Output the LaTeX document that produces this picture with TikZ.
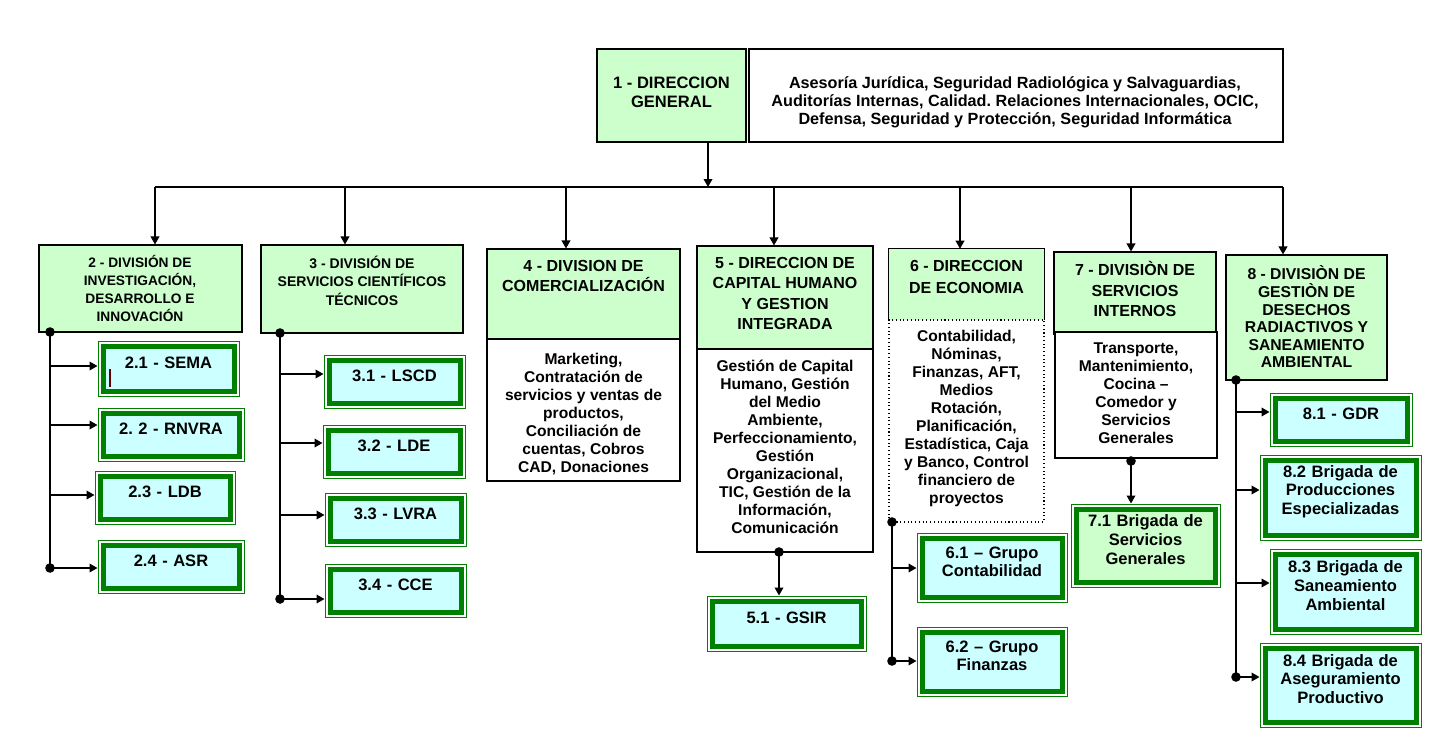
\documentclass[tikz,border=0pt]{standalone}
\usepackage{fontspec}
\setmainfont{Liberation Sans}
\usetikzlibrary{arrows.meta,fit,calc}
\definecolor{hgreen}{HTML}{CCFFCC}
\definecolor{cyanf}{HTML}{CCFFFF}
\definecolor{dkgreen}{HTML}{008000}
\definecolor{cursorc}{HTML}{600000}
\frenchspacing
\newcommand\fTop{\fontsize{12.4}{14.25}\selectfont\bfseries}
\newcommand\fAdv{\fontsize{12.15}{13.5}\selectfont\bfseries}
\newcommand\fTwo{\fontsize{10.3}{13.5}\selectfont\bfseries}
\newcommand\fThree{\fontsize{10.5}{13.9}\selectfont\bfseries}
\newcommand\fHd{\fontsize{12}{15.3}\selectfont\bfseries}
\newcommand\fHdb{\fontsize{12}{16.5}\selectfont\bfseries}
\newcommand\fEight{\fontsize{11.8}{13.2}\selectfont\bfseries}
\newcommand\fBody{\fontsize{11.7}{13.5}\selectfont\bfseries}
\newcommand\fSub{\fontsize{12.4}{14}\selectfont\bfseries}
\tikzset{
  hbox/.style={draw, line width=0.8pt, fill=hgreen, inner sep=0pt},
  wbox/.style={draw, line width=0.8pt, fill=white, inner sep=0pt},
  txt/.style={align=center, inner sep=0pt},
  conn/.style={line width=1.1pt},
  arr/.style={conn, -{Triangle[length=6pt,width=6.5pt]}},
}
\newcommand\subbx[5][cyanf]{%
  \draw[dkgreen, line width=3.75pt, fill=#1] ($#3+(5,5)$) rectangle ($#4+(-5,-5)$);
  \node[draw=dkgreen, line width=0.75pt, inner sep=0pt, fit={#3 #4}, align=center, font=\fSub] (#2) {#5};
}
\newcommand\dotat[1]{\fill #1 circle[radius=3.6pt];}
\begin{document}
\frenchspacing
\begin{tikzpicture}[x=0.75pt, y=-0.75pt]
\fill[white] (0,0) rectangle (1437,739);
\useasboundingbox (0,0) rectangle (1437,739);

% top level
\node[hbox, fit={(597,49) (746,142)}] (b1) {};
\node[txt, font=\fTop] (t1) at (671.5,92.5) {1 - DIRECCION\\GENERAL};
\node[wbox, fit={(749,49) (1283,142)}] (adv) {};
\node[txt, font=\fAdv] (tadv) at (1015,102) {Asesoría Jurídica, Seguridad Radiológica y Salvaguardias,\\Auditorías Internas, Calidad. Relaciones Internacionales, OCIC,\\Defensa, Seguridad y Protección, Seguridad Informática};

% divisions
\node[hbox, fit={(39,245) (242,332)}] (b2) {};
\node[txt, font=\fTwo] (t2) at (140,288) {2 - DIVISIÓN DE\\INVESTIGACIÓN,\\DESARROLLO E\\INNOVACIÓN};

\node[hbox, fit={(261,245) (463,333)}] (b3) {};
\node[txt, font=\fThree] (t3) at (362,280.5) {3 - DIVISIÓN DE\\SERVICIOS CIENTÍFICOS\\TÉCNICOS};

\node[hbox, fit={(487,249) (680,339)}] (h4) {};
\node[wbox, fit={(487,339) (680,481)}] (d4) {};
\node[txt, font=\fHd] (t4) at (583.5,276) {4 - DIVISION DE\\COMERCIALIZACIÓN};
\node[txt, font=\fBody] (u4) at (583.5,414.5) {Marketing,\\Contratación de\\servicios y ventas de\\productos,\\Conciliación de\\cuentas, Cobros\\CAD, Donaciones};

\node[hbox, fit={(697,246) (873,349)}] (h5) {};
\node[wbox, fit={(697,349) (873,552)}] (d5) {};
\node[txt, font=\fHd] (t5) at (785,293.5) {5 - DIRECCION DE\\CAPITAL HUMANO\\Y GESTION\\INTEGRADA};
\node[txt, font=\fBody] (u5) at (785,447) {Gestión de Capital\\Humano, Gestión\\del Medio\\Ambiente,\\Perfeccionamiento,\\Gestión\\Organizacional,\\TIC, Gestión de la\\Información,\\Comunicación};

\node[fill=hgreen, inner sep=0pt, fit={(889,249) (1044,320)}] (h6) {};
\draw[line width=0.8pt] (h6.south west) -- (h6.north west) -- (h6.north east) -- (h6.south east);
\node[draw, dotted, line width=0.8pt, fill=white, inner sep=0pt, fit={(889,320) (1044,522)}] (d6) {};
\node[txt, font=\fHdb] (t6) at (966.5,277) {6 - DIRECCION\\DE ECONOMIA};
\node[txt, font=\fBody] (u6) at (966.5,418.5) {Contabilidad,\\Nóminas,\\Finanzas, AFT,\\Medios\\Rotación,\\Planificación,\\Estadística, Caja\\y Banco, Control\\financiero de\\proyectos};

\node[hbox, fit={(1054,252) (1216,334)}] (h7) {};
\node[wbox, fit={(1055,332) (1217,458)}] (d7) {};
\node[txt, font=\fHd] (t7) at (1135,289) {7 - DIVISIÒN DE\\SERVICIOS\\INTERNOS};
\node[txt, font=\fBody] (u7) at (1136,393) {Transporte,\\Mantenimiento,\\Cocina –\\Comedor y\\Servicios\\Generales};

\node[hbox, fit={(1226,255) (1387,380)}] (b8) {};
\node[txt, font=\fEight] (t8) at (1306.5,317) {8 - DIVISIÒN DE\\GESTIÒN DE\\DESECHOS\\RADIACTIVOS Y\\SANEAMIENTO\\AMBIENTAL};

% sub units
\subbx{s21}{(98,341)}{(239,396)}{2.1 - SEMA}
\draw[cursorc, line width=0.9pt] (110,369) -- (110,387);
\subbx{s22}{(98,408)}{(244,461)}{2. 2 - RNVRA}
\subbx{s23}{(95,471)}{(235,524)}{2.3 - LDB}
\subbx{s24}{(98,540)}{(244,593)}{2.4 - ASR}
\subbx{s31}{(324,355)}{(465,408)}{3.1 - LSCD}
\subbx{s32}{(323,425)}{(465,478)}{3.2 - LDE}
\subbx{s33}{(325,493)}{(466,546)}{3.3 - LVRA}
\subbx{s34}{(325,564)}{(466,617)}{3.4 - CCE}
\subbx{s51}{(707,596)}{(866,651)}{5.1 - GSIR}
\subbx{s61}{(917,533)}{(1067,602)}{6.1 – Grupo\\Contabilidad}
\subbx{s62}{(917,627)}{(1067,696)}{6.2 – Grupo\\Finanzas}
\subbx[hgreen]{s71}{(1071,504)}{(1220,587)}{7.1 Brigada de\\Servicios\\Generales}
\subbx{s81}{(1270,393)}{(1412,446)}{8.1 - GDR}
\subbx{s82}{(1260,455)}{(1421,540)}{8.2 Brigada de\\Producciones\\Especializadas}
\subbx{s83}{(1270,549)}{(1421,634)}{8.3 Brigada de\\Saneamiento\\Ambiental}
\subbx{s84}{(1260,643)}{(1421,727)}{8.4 Brigada de\\Aseguramiento\\Productivo}

% top connector and bus
\coordinate (top) at (708,187);
\draw[arr] (b1.south -| top) -- (top);
\coordinate (busL) at (155,187);
\coordinate (busR) at (1283,187);
\draw[conn] (busL) -- (busR);
\foreach \xx/\n in {155/b2,345/b3,566/h4,774/h5,960/h6,1131/h7,1283/b8}{
  \coordinate (dr\n) at (\xx,187);
  \draw[arr] (dr\n) -- (dr\n |- \n.north);
}

% division 2 trunk
\coordinate (k2a) at (50,332);
\coordinate (k2b) at (50,568);
\draw[conn] (k2a) -- (k2b);
\dotat{(k2a)} \dotat{(k2b)}
\foreach \yy/\n in {366/s21,425/s22,495/s23,568/s24}{
  \coordinate (p\n) at (50,\yy);
  \draw[arr] (p\n) -- (p\n -| \n.west);
}

% division 3 trunk
\coordinate (k3a) at (280,333);
\coordinate (k3b) at (280,599);
\draw[conn] (k3a) -- (k3b);
\dotat{(k3a)} \dotat{(k3b)}
\foreach \yy/\n in {374/s31,443/s32,515/s33,599/s34}{
  \coordinate (p\n) at (280,\yy);
  \draw[arr] (p\n) -- (p\n -| \n.west);
}

% division 5
\coordinate (k5) at (779,552);
\dotat{(k5)}
\draw[arr] (k5) -- (k5 |- s51.north);

% division 6 trunk
\coordinate (k6a) at (892,522);
\coordinate (k6b) at (892,661);
\draw[conn] (k6a) -- (k6b);
\dotat{(k6a)} \dotat{(k6b)}
\foreach \yy/\n in {568/s61,661/s62}{
  \coordinate (p\n) at (892,\yy);
  \draw[arr] (p\n) -- (p\n -| \n.west);
}

% division 7
\coordinate (k7) at (1131,461);
\dotat{(k7)}
\draw[arr] (k7) -- (k7 |- s71.north);

% division 8 trunk
\coordinate (k8a) at (1236,380);
\coordinate (k8b) at (1236,677);
\draw[conn] (k8a) -- (k8b);
\dotat{(k8a)} \dotat{(k8b)}
\foreach \yy/\n in {412/s81,490/s82,583/s83,677/s84}{
  \coordinate (p\n) at (1236,\yy);
  \draw[arr] (p\n) -- (p\n -| \n.west);
}
\end{tikzpicture}
\end{document}
